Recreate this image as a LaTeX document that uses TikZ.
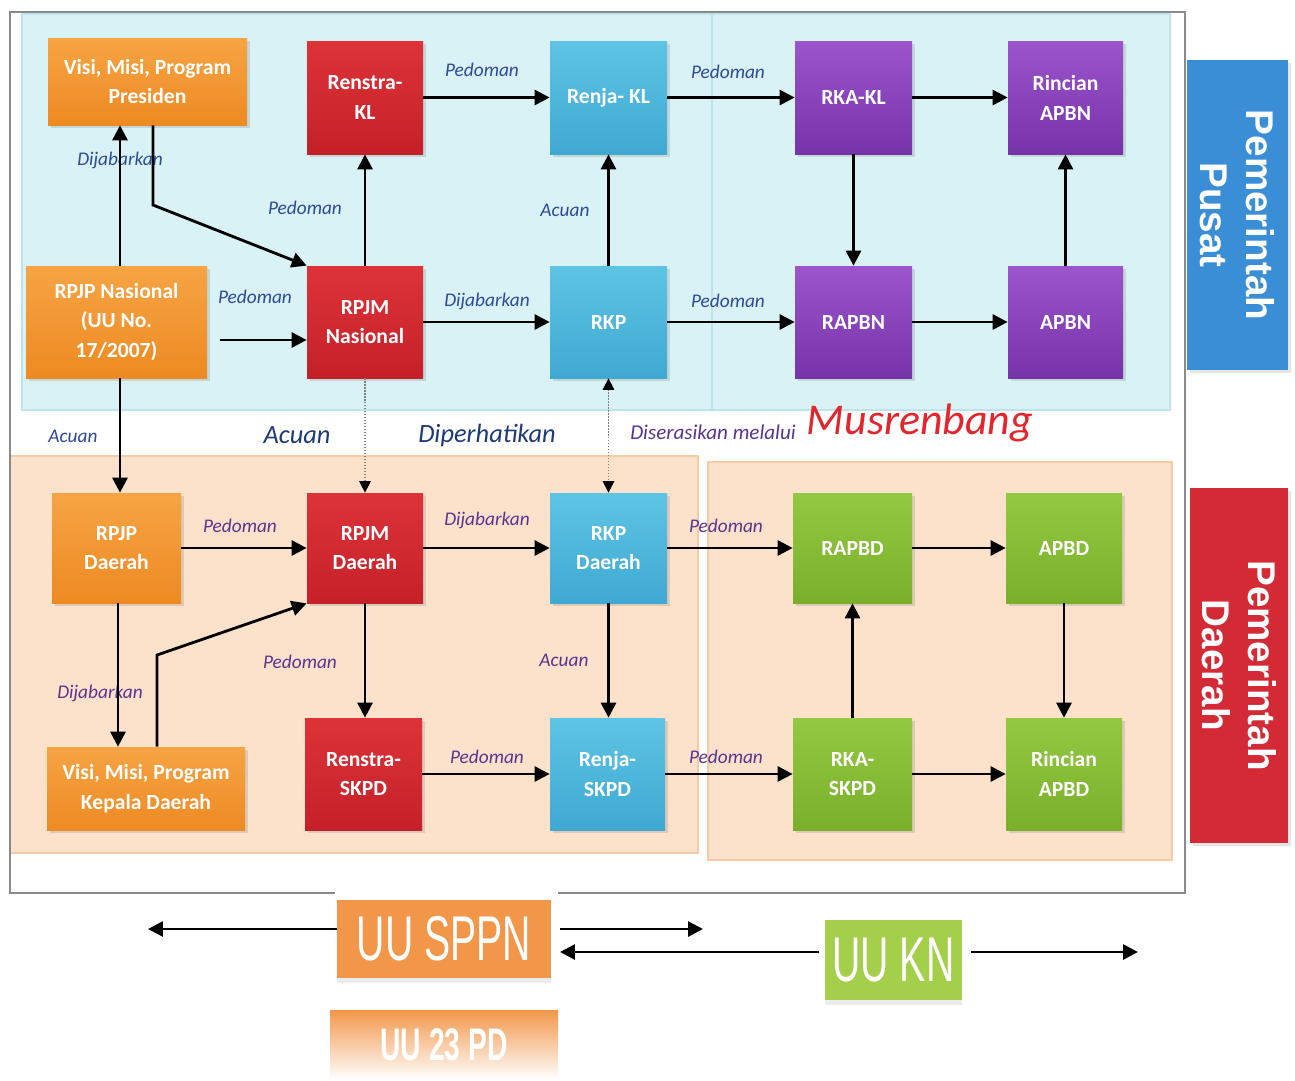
\documentclass[tikz,border=0pt]{standalone}
\usepackage{fontspec}
\setmainfont{Carlito}
\newfontfamily\condfont[FakeStretch=0.62]{Liberation Sans}
\newfontfamily\pemfont{Liberation Sans}
\usetikzlibrary{arrows.meta,shadows,calc}
\definecolor{cOrT}{HTML}{F6A444}
\definecolor{cOrB}{HTML}{EE8A22}
\definecolor{cRdT}{HTML}{DD3338}
\definecolor{cRdB}{HTML}{C52029}
\definecolor{cCyT}{HTML}{5EC4E4}
\definecolor{cCyB}{HTML}{3FA9D2}
\definecolor{cPuT}{HTML}{9C55CC}
\definecolor{cPuB}{HTML}{7733AA}
\definecolor{cGrT}{HTML}{93C942}
\definecolor{cGrB}{HTML}{79AF2A}
\definecolor{lblBlue}{HTML}{2E4A9A}
\definecolor{lblPur}{HTML}{5A3590}
\definecolor{navy}{HTML}{1E3A78}
\definecolor{musred}{HTML}{E3262E}
\definecolor{panCy}{HTML}{D9F2F5}
\definecolor{panCyB}{HTML}{BFE3EA}
\definecolor{peach}{HTML}{FCE2CB}
\definecolor{peachB}{HTML}{F4CBA4}
\definecolor{pusatBl}{HTML}{3A8ED6}
\definecolor{daerahRd}{HTML}{D42A36}
\definecolor{uuOr}{HTML}{F2974A}
\definecolor{uuGr}{HTML}{A4CF4A}
\definecolor{frameC}{HTML}{8A8A8A}
\begin{document}
\begin{tikzpicture}[x=0.02cm,y=-0.02cm,
  bx/.style 2 args={minimum width=#1*0.02cm, minimum height=#2*0.02cm},
  box/.style={inner sep=1pt, align=center, text=white,
    font=\bfseries\fontsize{12.3}{17}\selectfont,
    drop shadow={shadow xshift=1.5pt, shadow yshift=-1.5pt, opacity=0.25}},
  orbox/.style={box, top color=cOrT, bottom color=cOrB},
  rdbox/.style={box, top color=cRdT, bottom color=cRdB},
  cybox/.style={box, top color=cCyT, bottom color=cCyB},
  pubox/.style={box, top color=cPuT, bottom color=cPuB},
  grbox/.style={box, top color=cGrT, bottom color=cGrB},
  lbl/.style={font=\itshape\fontsize{11}{13}\selectfont, text=lblBlue, inner sep=1pt},
  lblp/.style={lbl, text=lblPur},
  biglbl/.style={font=\itshape\fontsize{15}{17}\selectfont, text=navy, inner sep=1pt},
  arr/.style={line width=1.6pt, -{Triangle[length=8.5pt,width=8.5pt]}},
  dotarr/.style={line width=0.7pt, densely dotted, gray, -{Triangle[length=6.5pt,width=6.5pt,color=black]}},
  dotarr2/.style={line width=0.7pt, densely dotted, gray, {Triangle[length=6.5pt,width=6.5pt,color=black]}-{Triangle[length=6.5pt,width=6.5pt,color=black]}},
  uu/.style={inner sep=0pt, text=white, font=\condfont\fontsize{36}{38}\selectfont}
]
\useasboundingbox (0,0) rectangle (1295,1080);
\fill[white] (0,0) rectangle (1295,1080);

% panels
\filldraw[fill=panCy, draw=panCyB, line width=0.6pt] (22,14) rectangle (1170,410);
\draw[panCyB, line width=0.8pt] (712,14) -- (712,410);
\filldraw[fill=peach, draw=peachB, line width=0.6pt] (10,456) rectangle (698,853);
\filldraw[fill=peach, draw=peachB, line width=0.6pt] (708,462) rectangle (1172,860);

% frame
\draw[frameC, line width=1.2pt] (335,893) -- (10,893) -- (10,12) -- (1185,12) -- (1185,893) -- (558,893);

% side boxes
\node[fill=pusatBl, bx={101}{310}, drop shadow={shadow xshift=1.5pt, shadow yshift=-1.5pt, opacity=0.2}] (pusat) at (1237.5,215) {};
\node[rotate=-90, align=center, text=white, font=\pemfont\bfseries\fontsize{22}{26}\selectfont] (pusatT) at (pusat.center) {Pemerintah\\Pusat};
\node[fill=daerahRd, bx={98}{355}, drop shadow={shadow xshift=1.5pt, shadow yshift=-1.5pt, opacity=0.2}] (daerah) at (1239,665.5) {};
\node[rotate=-90, align=center, text=white, font=\pemfont\bfseries\fontsize{22}{26}\selectfont] (daerahT) at (daerah.center) {Pemerintah\\Daerah};

% top row
\node[orbox, bx={199}{87}] (visipres) at (147.5,81.5) {Visi, Misi, Program\\Presiden};
\node[rdbox, bx={116}{113}] (renstrakl) at (365,97.5) {Renstra-\\KL};
\node[cybox, bx={117}{113}] (renjakl) at (608.5,97.5) {Renja- KL};
\node[pubox, bx={117}{113}] (rkakl) at (853.5,97.5) {RKA-KL};
\node[pubox, bx={115}{113}] (rincianapbn) at (1065.5,97.5) {Rincian\\APBN};
% second row
\node[orbox, bx={181}{112}] (rpjpnas) at (116.5,322) {RPJP Nasional\\(UU No.\\17/2007)};
\node[rdbox, bx={116}{112}] (rpjmnas) at (365,322) {RPJM\\Nasional};
\node[cybox, bx={117}{112}] (rkp) at (608.5,322) {RKP};
\node[pubox, bx={117}{112}] (rapbn) at (853.5,322) {RAPBN};
\node[pubox, bx={115}{112}] (apbn) at (1065.5,322) {APBN};
% third row
\node[orbox, bx={129}{110}] (rpjpd) at (116.5,548) {RPJP\\Daerah};
\node[rdbox, bx={116}{110}] (rpjmd) at (365,548) {RPJM\\Daerah};
\node[cybox, bx={117}{110}] (rkpd) at (608.5,548) {RKP\\Daerah};
\node[grbox, bx={119}{110}] (rapbd) at (852.5,548) {RAPBD};
\node[grbox, bx={116}{110}] (apbd) at (1064,548) {APBD};
% fourth row
\node[orbox, bx={198}{83}] (visikd) at (146,788.5) {Visi, Misi, Program\\Kepala Daerah};
\node[rdbox, bx={117}{112}] (renstraskpd) at (363.5,774) {Renstra-\\SKPD};
\node[cybox, bx={115}{112}] (renjaskpd) at (607.5,774) {Renja-\\SKPD};
\node[grbox, bx={119}{112}] (rkaskpd) at (852.5,774) {RKA-\\SKPD};
\node[grbox, bx={116}{112}] (rincianapbd) at (1064,774) {Rincian\\APBD};

% labels
\node[lbl] (l1) at (120,160) {Dijabarkan};
\node[lbl] (l2) at (305,208) {Pedoman};
\node[lbl] (l3) at (255,297) {Pedoman};
\node[lbl] (l4) at (482,70) {Pedoman};
\node[lbl] (l5) at (728,72) {Pedoman};
\node[lbl] (l6) at (487,301) {Dijabarkan};
\node[lbl] (l7) at (565,210) {Acuan};
\node[lbl] (l8) at (728,301) {Pedoman};
\node[lbl] (l9) at (73,436) {Acuan};
\node[biglbl] (l10) at (297,435) {Acuan};
\node[biglbl] (l11) at (487,435) {Diperhatikan};
\node[lblp, font=\itshape\fontsize{12}{14}\selectfont] (l12) at (713,432) {Diserasikan melalui};
\node[font=\itshape\fontsize{25}{28}\selectfont, text=musred, inner sep=1pt] (l13) at (920,423) {Musrenbang};
\node[lblp] (l14) at (240,526) {Pedoman};
\node[lblp] (l15) at (487,520) {Dijabarkan};
\node[lblp] (l16) at (726,526) {Pedoman};
\node[lblp] (l17) at (100,693) {Dijabarkan};
\node[lblp] (l18) at (300,662) {Pedoman};
\node[lblp] (l19) at (564,660) {Acuan};
\node[lblp] (l20) at (487,757) {Pedoman};
\node[lblp] (l21) at (726,757) {Pedoman};

% coordinates
\coordinate (xa) at (120,0);
\coordinate (xb) at (153,0);
\coordinate (xc) at (118,0);
\coordinate (xd) at (157,0);
\coordinate (bend1) at (153,205);
\coordinate (bend2) at (157,655);

% top arrows
\draw[arr] (rpjpnas.north -| xa) -- (visipres.south -| xa);
\draw[arr] (visipres.south -| xb) -- (bend1) -- (rpjmnas.north west);
\draw[arr] (rpjmnas.north) -- (renstrakl.south);
\draw[arr, shorten <=0.26cm] (rpjpnas.east |- rpjmnas.east) ++(0,18) coordinate (p1) -- (p1 -| rpjmnas.west);
\draw[arr] (renstrakl.east) -- (renjakl.west);
\draw[arr] (renjakl.east) -- (rkakl.west);
\draw[arr] (rkakl.east) -- (rincianapbn.west);
\draw[arr] (rpjmnas.east) -- (rkp.west);
\draw[arr] (rkp.north) -- (renjakl.south);
\draw[arr] (rkp.east) -- (rapbn.west);
\draw[arr] (rkakl.south) -- (rapbn.north);
\draw[arr] (rapbn.east) -- (apbn.west);
\draw[arr] (apbn.north) -- (rincianapbn.south);
% cross arrows
\draw[arr] (rpjpnas.south -| xa) -- (rpjpd.north -| xa);
\draw[dotarr] (rpjmnas.south) -- (rpjmd.north);
\draw[dotarr2] (rkp.south) -- (rkpd.north);
% lower arrows
\draw[arr] (rpjpd.east) -- (rpjmd.west);
\draw[arr] (rpjpd.south -| xc) -- (visikd.north -| xc);
\draw[arr] (visikd.north -| xd) -- (bend2) -- (rpjmd.south west);
\draw[arr] (rpjmd.east) -- (rkpd.west);
\draw[arr] (rpjmd.south) -- (renstraskpd.north -| rpjmd.south);
\draw[arr] (rkpd.south) -- (renjaskpd.north -| rkpd.south);
\draw[arr] (rkpd.east) -- (rapbd.west);
\draw[arr] (renstraskpd.east) -- (renjaskpd.west);
\draw[arr] (renjaskpd.east) -- (rkaskpd.west);
\draw[arr] (rkaskpd.north) -- (rapbd.south);
\draw[arr] (rapbd.east) -- (apbd.west);
\draw[arr] (apbd.south) -- (rincianapbd.north);
\draw[arr] (rkaskpd.east) -- (rincianapbd.west);

% bottom law boxes
\node[fill=uuOr, bx={214}{78}, uu, drop shadow={shadow xshift=0pt, shadow yshift=-3pt, opacity=0.15}] (sppn) at (444,939) {UU SPPN};
\node[fill=uuGr, bx={137}{80}, uu, drop shadow={shadow xshift=0pt, shadow yshift=-3pt, opacity=0.15}] (kn) at (893.5,960) {UU KN};
\node[top color=uuOr, bottom color=white, bx={228}{70}, inner sep=0pt, text=white, font=\condfont\bfseries\fontsize{26}{28}\selectfont] (pd) at (444,1045) {UU 23 PD};

\coordinate (e1) at (148,929);
\coordinate (e2) at (703,929);
\coordinate (e3) at (560,952);
\coordinate (e4) at (1138,952);
\draw[arr] (sppn.west |- e1) -- (e1);
\draw[arr, shorten <=5pt] (sppn.east |- e2) -- (e2);
\draw[arr, shorten <=3pt] (kn.west |- e3) -- (e3);
\draw[arr, shorten <=5pt] (kn.east |- e4) -- (e4);
\end{tikzpicture}
\end{document}
